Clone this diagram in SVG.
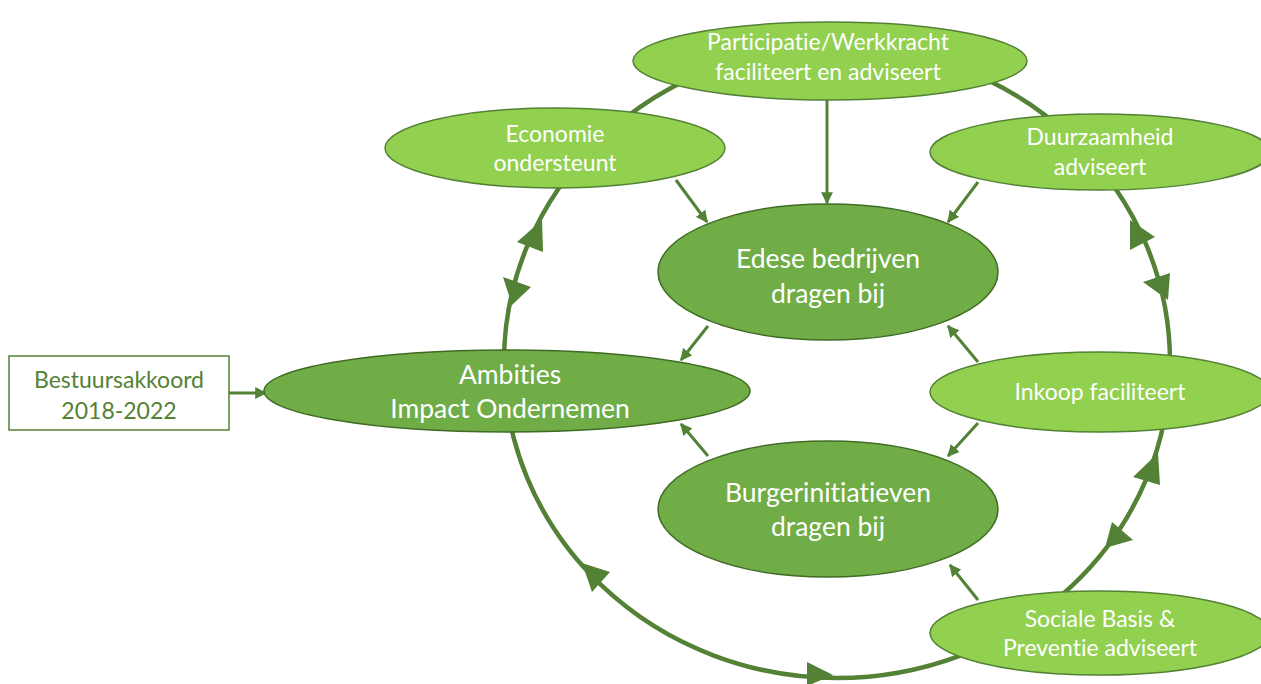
<svg xmlns="http://www.w3.org/2000/svg" width="1261" height="684" viewBox="0 0 1261 684">
<style>
text{font-variant-ligatures:none;font-feature-settings:"liga" 0,"clig" 0,"dlig" 0}
.light{fill:#92D050;stroke:#538135;stroke-width:1.5}
.dark{fill:#70AD47;stroke:#3F6B24;stroke-width:1.5}
.t{font-family:Lato,"Liberation Sans",sans-serif;fill:#fff;text-anchor:middle}
.s{font-size:23px}
.b{font-size:26.5px}
.c{stroke:#538135;stroke-width:3;fill:none;marker-end:url(#ah)}
.ring{stroke:#538135;stroke-width:4.5;fill:none}
.rh{fill:#538135}
.g{font-family:Lato,"Liberation Sans",sans-serif;fill:#538135;text-anchor:middle;font-size:23px}
</style>
<defs>
<marker id="ah" viewBox="0 0 10 10" refX="9" refY="5" markerWidth="4" markerHeight="4" orient="auto" markerUnits="strokeWidth">
<path d="M0,0 L10,5 L0,10 z" fill="#538135"/>
</marker>
</defs>
<g id="ring">
<ellipse class="ring" cx="837" cy="362" rx="333" ry="316"/>
<polygon class="rh" points="542,220 517,242 543,252"/>
<polygon class="rh" points="512,305 503,277 531,287"/>
<polygon class="rh" points="1130,220 1130,250 1155,237"/>
<polygon class="rh" points="1168,300 1143,282 1170,273"/>
<polygon class="rh" points="1158,453 1133,477 1160,485"/>
<polygon class="rh" points="1105,548 1112,522 1133,540"/>
<polygon class="rh" points="582,563 592,592 610,572"/>
<polygon class="rh" points="833,675 807,662 807,686"/>
</g>
<g id="connectors">
<line class="c" x1="827" y1="100" x2="827" y2="203"/>
<line class="c" x1="676" y1="180" x2="707" y2="222"/>
<line class="c" x1="978" y1="182" x2="948" y2="222"/>
<line class="c" x1="708" y1="326" x2="681" y2="360"/>
<line class="c" x1="978" y1="362" x2="948" y2="326"/>
<line class="c" x1="978" y1="423" x2="948" y2="456"/>
<line class="c" x1="708" y1="456" x2="681" y2="424"/>
<line class="c" x1="978" y1="600" x2="950" y2="565"/>
<line class="c" x1="229" y1="393" x2="266" y2="393"/>
</g>
<g id="participatie">
<ellipse class="light" cx="830" cy="61" rx="197" ry="39"/>
<text class="t s" x="828" y="50">Participatie/Werkkracht</text>
<text class="t s" x="828" y="80">faciliteert en adviseert</text>
</g>
<g id="economie">
<ellipse class="light" cx="555" cy="148" rx="170" ry="40"/>
<text class="t s" x="555" y="142">Economie</text>
<text class="t s" x="555" y="171">ondersteunt</text>
</g>
<g id="duurzaamheid">
<ellipse class="light" cx="1100" cy="152" rx="170" ry="38"/>
<text class="t s" x="1100" y="145">Duurzaamheid</text>
<text class="t s" x="1100" y="175">adviseert</text>
</g>
<g id="edese">
<ellipse class="dark" cx="828" cy="272" rx="170" ry="68"/>
<text class="t b" x="828" y="268">Edese bedrijven</text>
<text class="t b" x="828" y="303">dragen bij</text>
</g>
<g id="ambities">
<ellipse class="dark" cx="507" cy="391" rx="243" ry="41"/>
<text class="t b" x="510" y="384">Ambities</text>
<text class="t b" x="510" y="418">Impact Ondernemen</text>
</g>
<g id="inkoop">
<ellipse class="light" cx="1100" cy="392" rx="170" ry="40"/>
<text class="t s" x="1100" y="400">Inkoop faciliteert</text>
</g>
<g id="burger">
<ellipse class="dark" cx="828" cy="509" rx="170" ry="68"/>
<text class="t b" x="828" y="502">Burgerinitiatieven</text>
<text class="t b" x="828" y="536">dragen bij</text>
</g>
<g id="sociale">
<ellipse class="light" cx="1100" cy="633" rx="170" ry="42"/>
<text class="t s" x="1100" y="627">Sociale Basis &amp;</text>
<text class="t s" x="1100" y="656">Preventie adviseert</text>
</g>
<g id="bestuursakkoord">
<rect x="9" y="356" width="220" height="74" fill="#fff" stroke="#538135" stroke-width="1.5"/>
<text class="g" x="119" y="388">Bestuursakkoord</text>
<text class="g" x="119" y="419">2018-2022</text>
</g>
</svg>
